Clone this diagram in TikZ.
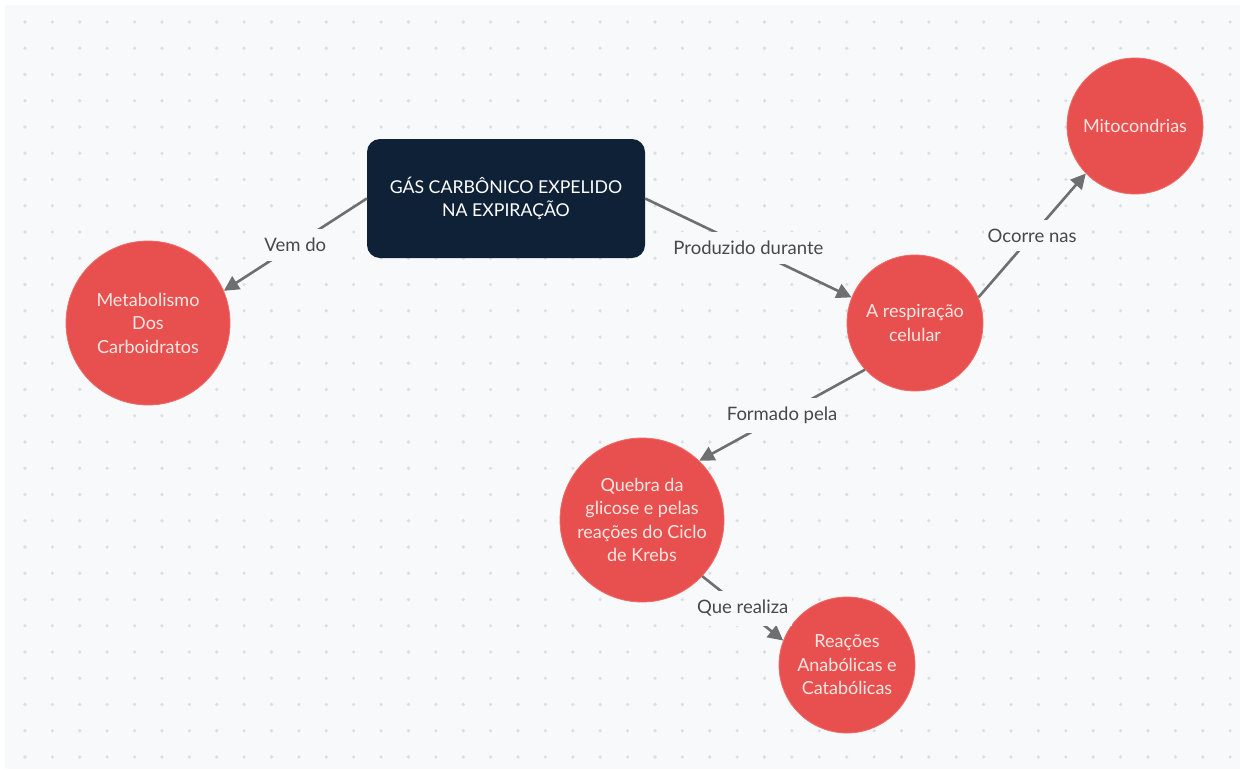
\documentclass[tikz,border=0pt]{standalone}
\usepackage{fontspec}
\setmainfont{Lato}
\usetikzlibrary{arrows.meta}

\definecolor{canvas}{HTML}{F8F9FB}
\definecolor{dotgray}{HTML}{DCDEE1}
\definecolor{navy}{HTML}{0E2137}
\definecolor{coral}{HTML}{E8504F}
\definecolor{coralrim}{HTML}{EF6B67}
\definecolor{softwhite}{HTML}{FCE6E2}
\definecolor{linkgray}{HTML}{6E6F71}
\definecolor{labelgray}{HTML}{474849}

\tikzset{
  topic/.style={rectangle, rounded corners=13pt, fill=navy,
    minimum width=278pt, minimum height=119pt, inner sep=0pt,
    text=white, align=center, font=\fontsize{17.7}{23}\selectfont},
  bubble/.style={circle, fill=coral, draw=coralrim, line width=0.8pt,
    inner sep=0pt, align=center, text=softwhite,
    font=\fontsize{18}{23.5}\selectfont},
  bigbubble/.style={bubble, minimum size=164pt},
  smallbubble/.style={bubble, minimum size=136pt},
  link/.style={draw=linkgray, line width=2.6pt,
    -{Triangle[length=15pt,width=15pt]}},
  linklabel/.style={fill=canvas, inner xsep=4pt, inner ysep=9pt,
    text=labelgray, font=\fontsize{18.5}{21}\selectfont}
}

\begin{document}
\begin{tikzpicture}[x=1pt,y=-1pt]
  \useasboundingbox (0,0) rectangle (1240,769);
  % dotted canvas
  \fill[white] (0,0) rectangle (1240,769);
  \fill[canvas] (5,5) rectangle (1240,769);
  \foreach \i in {0,...,44}
    \foreach \j in {0,...,28}
      \fill[dotgray] (25+27.39*\i, 22+26.25*\j) circle[radius=1.8pt];

  % concepts
  \node[topic] (box) at (506,198.5) {GÁS CARBÔNICO EXPELIDO\\NA EXPIRAÇÃO};
  \node[bigbubble] (meta) at (148,323) {Metabolismo\\Dos\\Carboidratos};
  \node[smallbubble] (resp) at (915,323) {A respiração\\celular};
  \node[smallbubble] (mito) at (1135,126) {Mitocondrias};
  \node[bigbubble] (quebra) at (642,520) {Quebra da\\glicose e pelas\\reações do Ciclo\\de Krebs};
  \node[smallbubble] (reac) at (847,665) {Reações\\Anabólicas e\\Catabólicas};

  % relations
  \draw[link] (box.west) -- node[linklabel] {Vem do} (meta.23);
  \draw[link] (box.east) -- node[linklabel] {Produzido durante} (resp.158);
  \draw[link] (resp.22) -- node[linklabel] {Ocorre nas} (mito.224);
  \draw[link] (resp.223) -- node[linklabel] {Formado pela} (quebra.46);
  \draw[link] (quebra.-43) -- node[linklabel] {Que realiza} (reac.159);
\end{tikzpicture}
\end{document}
